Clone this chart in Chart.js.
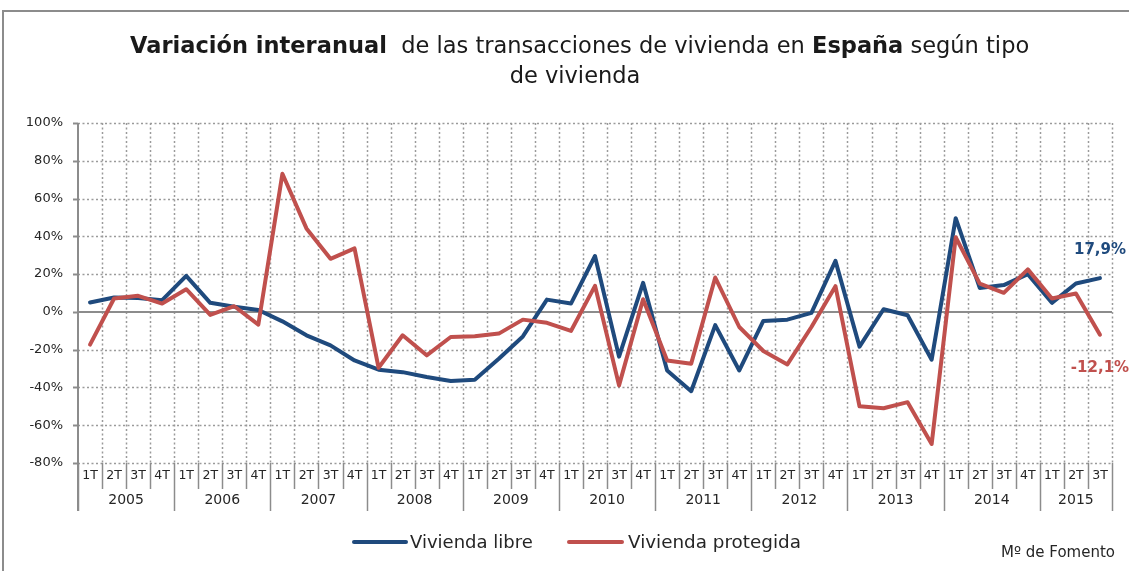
<!DOCTYPE html>
<html><head><meta charset="utf-8">
<script src="https://cdn.jsdelivr.net/npm/chart.js@4/dist/chart.umd.min.js"></script>
<style>html,body{margin:0;padding:0;background:#fff;}#wrap{width:1129px;height:571px;position:relative;}</style>
</head><body><div id="wrap"><canvas id="c" width="1129" height="571"></canvas></div>
<script>
// ---- data ----
const years = ['2005','2006','2007','2008','2009','2010','2011','2012','2013','2014','2015'];
const quartersPerYear = [4,4,4,4,4,4,4,4,4,4,3];
const quarterLabels = [
 '1T','2T','3T','4T','1T','2T','3T','4T','1T','2T','3T','4T','1T','2T','3T','4T',
 '1T','2T','3T','4T','1T','2T','3T','4T','1T','2T','3T','4T','1T','2T','3T','4T',
 '1T','2T','3T','4T','1T','2T','3T','4T','1T','2T','3T'];
const viviendaLibre = [5,7.6,7.4,6.2,19.1,4.8,2.7,1,-5,-12.4,-17.7,-25.7,-30.6,-31.9,-34.5,-36.6,
 -35.9,-24.8,-13,6.5,4.4,29.6,-23.7,15.4,-31,-42,-7,-31,-4.8,-4.1,-0.5,27,
 -18.4,1.4,-1.8,-25.3,49.6,12.7,14.2,20,4.8,15,17.9];
const viviendaProtegida = [-17.3,7.1,8.5,4.4,12,-1.6,3,-6.7,73.1,44.2,28.1,33.6,-29.6,-12.4,-23,-13.3,
 -12.9,-11.5,-4.1,-5.8,-10.1,13.8,-38.9,6.7,-25.7,-27.4,18.2,-8,-20.7,-27.8,-8,13.6,
 -50,-51,-47.8,-69.9,39.5,15,10.1,22.5,7.1,9.7,-12.1];
const yMin = -80, yMax = 100, yStep = 20;
const lastLabels = ['17,9%','-12,1%'];
const seriesNames = ['Vivienda libre','Vivienda protegida'];

const categories = [];
{ let k=0; years.forEach((y,yi)=>{ for(let q=0;q<quartersPerYear[yi];q++){ categories.push(quarterLabels[k]+' '+y); k++; } }); }

const FONT = '"DejaVu Sans", sans-serif';
const BLUE = '#1F4A7D', RED = '#C0504D', GRID = '#9a9a9a', AXIS = '#8c8c8c', TXT = '#262626';

function fitFont(ctx, text, weight, target){
  ctx.font = weight+' 20px '+FONT;
  const w = ctx.measureText(text).width;
  return 20*target/w;
}

const deco = {
  id:'deco',
  beforeDatasetsDraw(chart){
    const {ctx, chartArea:a, scales:{x,y}} = chart;
    const n = categories.length;
    ctx.save();
    // dotted grid
    ctx.strokeStyle = GRID; ctx.lineWidth = 1.5; ctx.setLineDash([2,2.5]);
    for(let v=yMin; v<=yMax; v+=yStep){
      if(v===0) continue;
      const py = Math.round(y.getPixelForValue(v))+0.5;
      ctx.beginPath(); ctx.moveTo(a.left, py); ctx.lineTo(a.right, py); ctx.stroke();
    }
    for(let k=1;k<=n;k++){
      const px = Math.round(x.getPixelForValue(k-0.5))+0.5;
      ctx.beginPath(); ctx.moveTo(px, a.top); ctx.lineTo(px, a.bottom); ctx.stroke();
    }
    ctx.setLineDash([]);
    ctx.strokeStyle = AXIS; ctx.lineWidth = 2;
    // zero line
    const y0 = Math.round(y.getPixelForValue(0));
    ctx.beginPath(); ctx.moveTo(a.left, y0); ctx.lineTo(a.right, y0); ctx.stroke();
    // y axis
    ctx.beginPath(); ctx.moveTo(a.left, a.top); ctx.lineTo(a.left, a.bottom+48); ctx.stroke();
    // y tick marks
    for(let v=yMin; v<=yMax; v+=yStep){
      const py = Math.round(y.getPixelForValue(v))+0.5;
      ctx.beginPath(); ctx.moveTo(a.left-5, py); ctx.lineTo(a.left, py); ctx.stroke();
    }
    // category separators below
    ctx.lineWidth = 1.5;
    let k=0; const yearStarts=[0];
    quartersPerYear.forEach(c=>{k+=c; yearStarts.push(k);});
    for(let b=0;b<=n;b++){
      const px = Math.round(x.getPixelForValue(b-0.5))+0.5;
      const isYear = yearStarts.includes(b);
      ctx.beginPath(); ctx.moveTo(px, a.bottom); ctx.lineTo(px, a.bottom + (isYear?48:26)); ctx.stroke();
    }
    // quarter labels
    ctx.fillStyle = TXT; ctx.textAlign='center'; ctx.textBaseline='middle';
    ctx.font = '12.5px '+FONT;
    for(let i=0;i<n;i++){
      ctx.fillText(quarterLabels[i], x.getPixelForValue(i), a.bottom+13);
    }
    ctx.font = '14px '+FONT;
    years.forEach((yr,yi)=>{
      const s = yearStarts[yi], e = yearStarts[yi+1];
      const cx = (x.getPixelForValue(s-0.5)+x.getPixelForValue(e-0.5))/2;
      ctx.fillText(yr, cx, a.bottom+37);
    });
    ctx.restore();
  },
  afterDraw(chart){
    const {ctx, scales:{x,y}} = chart;
    ctx.save();
    // frame
    ctx.strokeStyle = '#8c8c8c'; ctx.lineWidth = 2;
    ctx.strokeRect(3, 11, 1300, 800);
    // title
    const parts = [['Variación interanual','bold'],['  de las transacciones de vivienda en ','normal'],['España','bold'],[' según tipo','normal']];
    let size = 20, tot=0;
    parts.forEach(p=>{ctx.font=p[1]+' 20px '+FONT; tot+=ctx.measureText(p[0]).width;});
    size = 20*900/tot;
    let cx = 580 - 900/2;
    ctx.fillStyle = '#1a1a1a'; ctx.textBaseline='middle'; ctx.textAlign='left';
    parts.forEach(p=>{ctx.font=p[1]+' '+size+'px '+FONT; ctx.fillText(p[0], cx, 47); cx+=ctx.measureText(p[0]).width;});
    ctx.textAlign='center'; ctx.font='normal '+size+'px '+FONT;
    ctx.fillText('de vivienda', 575, 77);
    // end labels
    const n = categories.length-1;
    const lx = x.getPixelForValue(n);
    ctx.font = 'bold 15px '+FONT; ctx.textAlign='center';
    ctx.fillStyle = BLUE;
    ctx.fillText(lastLabels[0], lx, y.getPixelForValue(viviendaLibre[n]) - 28);
    ctx.fillStyle = RED;
    ctx.fillText(lastLabels[1], lx, y.getPixelForValue(viviendaProtegida[n]) + 33);
    // legend
    ctx.lineWidth = 4; ctx.lineCap='round';
    ctx.strokeStyle = BLUE; ctx.beginPath(); ctx.moveTo(354,542); ctx.lineTo(406,542); ctx.stroke();
    ctx.strokeStyle = RED; ctx.beginPath(); ctx.moveTo(569,542); ctx.lineTo(622,542); ctx.stroke();
    ctx.fillStyle = TXT; ctx.textAlign='left';
    ctx.font = 'normal '+fitFont(ctx, seriesNames[0], 'normal', 123)+'px '+FONT;
    ctx.fillText(seriesNames[0], 410, 543);
    ctx.font = 'normal '+fitFont(ctx, seriesNames[1], 'normal', 173)+'px '+FONT;
    ctx.fillText(seriesNames[1], 628, 543);
    ctx.font = 'normal '+fitFont(ctx, 'Mº de Fomento', 'normal', 114)+'px '+FONT;
    ctx.fillText('Mº de Fomento', 1001, 553);
    ctx.restore();
  }
};

new Chart(document.getElementById('c').getContext('2d'), {
  type:'line',
  data:{labels:categories, datasets:[
    {label:seriesNames[0], data:viviendaLibre, borderColor:BLUE, borderWidth:4, pointRadius:0, tension:0, fill:false, order:1, borderJoinStyle:'round', borderCapStyle:'round'},
    {label:seriesNames[1], data:viviendaProtegida, borderColor:RED, borderWidth:4, pointRadius:0, tension:0, fill:false, order:0, borderJoinStyle:'round', borderCapStyle:'round'}
  ]},
  options:{
    responsive:false, animation:false, devicePixelRatio:1,
    layout:{padding:{left:0,right:17,top:123,bottom:108}},
    plugins:{legend:{display:false}, title:{display:false}, tooltip:{enabled:false}},
    scales:{
      x:{type:'category', offset:true, grid:{display:false, drawTicks:false}, border:{display:false}, ticks:{display:false}, afterFit(s){s.height=0;}},
      y:{min:yMin, max:yMax, afterFit(s){s.width=78;},
         ticks:{stepSize:yStep, callback:v=>v+'%', font:{family:FONT, size:13}, color:TXT, padding:15},
         grid:{display:false, drawTicks:false, tickLength:0}, border:{display:false}}
    }
  },
  plugins:[deco]
});
</script></body></html>
